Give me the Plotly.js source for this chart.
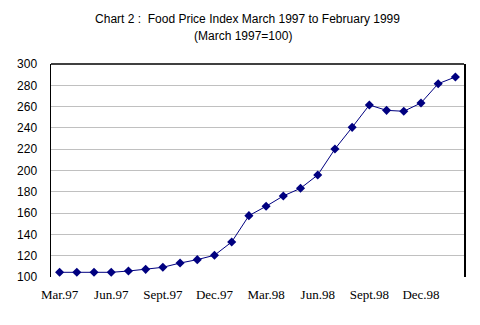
<!DOCTYPE html>
<html><head><meta charset="utf-8">
<script src="https://cdn.plot.ly/plotly-3.0.1.min.js"></script>
<style>html,body{margin:0;padding:0;background:#fff}#chart{width:480px;height:325px}</style>
</head><body><div id="chart"></div>
<script>
const months = ["Mar.97","Apr.97","May.97","Jun.97","Jul.97","Aug.97","Sept.97","Oct.97","Nov.97","Dec.97","Jan.98","Feb.98","Mar.98","Apr.98","May.98","Jun.98","Jul.98","Aug.98","Sept.98","Oct.98","Nov.98","Dec.98","Jan.99","Feb.99"];
const values = [104.4,104.4,104.4,104.4,105.6,107.2,109.1,113.1,116.3,120.4,132.9,157.6,166.4,176.1,183.3,195.8,220.2,240.5,261.5,256.5,255.6,263.4,281.5,287.8];
const tickLabels = ["Mar.97","Jun.97","Sept.97","Dec.97","Mar.98","Jun.98","Sept.98","Dec.98"];
const yTicks = [100,120,140,160,180,200,220,240,260,280,300];
const titleLine1 = 'Chart 2 :\u00a0\u00a0Food Price Index March 1997 to February 1999';
const titleLine2 = '(March 1997=100)';

const trace = {
  x: months, y: values, type: 'scatter', mode: 'lines+markers',
  line: {color: '#000080', width: 1},
  marker: {symbol: 'diamond', size: 7, color: '#000080'},
  hoverinfo: 'skip'
};
const tfont = {family: 'Liberation Sans, Arial', size: 12, color: '#000'};
const layout = {
  width: 480, height: 325,
  margin: {l: 51, r: 16, t: 64, b: 48},
  paper_bgcolor: '#fff', plot_bgcolor: '#fff',
  showlegend: false,
  title: {text: titleLine1, font: tfont,
          x: 247.5 / 480, xanchor: 'center', y: 1 - 19/325, yanchor: 'middle'},
  annotations: [{text: titleLine2, font: tfont, showarrow: false,
                 xref: 'paper', x: (243 - 51) / 413, xanchor: 'center',
                 yref: 'paper', y: 1 + (64 - 36) / 213, yanchor: 'middle'}],
  xaxis: {type: 'category', categoryarray: months, range: [-0.5, 23.5],
          tickmode: 'array', tickvals: tickLabels, ticktext: tickLabels,
          showgrid: false, zeroline: false, showline: false, ticks: '',
          ticklabelstandoff: 8,
          tickfont: {family: 'Liberation Serif, Times New Roman', size: 13, color: '#000'}},
  yaxis: {range: [100, 300], tickvals: yTicks, showgrid: true, gridcolor: '#c0c0c0', gridwidth: 1,
          zeroline: false, showline: true, mirror: true, linecolor: '#000', linewidth: 1.5,
          ticks: '', ticklabelstandoff: 10,
          tickfont: {family: 'Liberation Sans, Arial', size: 12, color: '#000'}},
  shapes: [{type: 'line', xref: 'paper', yref: 'paper', x0: 0, x1: 1, y0: 1, y1: 1,
            line: {color: '#000', width: 1.5}}]
};
Plotly.newPlot('chart', [trace], layout, {staticPlot: true});
</script></body></html>
